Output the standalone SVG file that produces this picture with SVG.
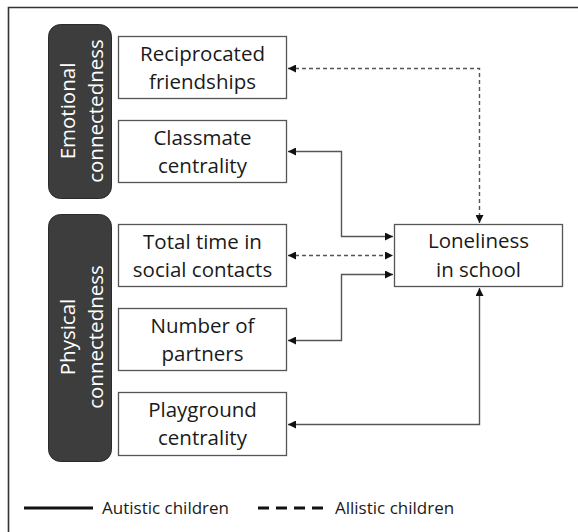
<svg xmlns="http://www.w3.org/2000/svg" width="578" height="532" viewBox="0 0 578 532">
<style>
.box{fill:#fff;stroke:#555;stroke-width:1.3}
.grp{fill:#3d3d3d;stroke:#2a2a2a;stroke-width:1}
.t{font-family:"Open Sans",sans-serif;font-size:20.5px;fill:#1a1a1a;text-anchor:middle}
.w{font-family:"Open Sans",sans-serif;font-size:20.5px;fill:#fff;text-anchor:middle}
.l{font-family:"Open Sans",sans-serif;font-size:17px;fill:#1a1a1a}
.c{fill:none;stroke:#555;stroke-width:1.4}
.d{stroke-dasharray:4 3}
</style>
<defs>
<marker id="a" viewBox="0 0 10 10" refX="10" refY="5" markerWidth="8" markerHeight="8" markerUnits="userSpaceOnUse" orient="auto-start-reverse">
<path d="M0,0 L10,5 L0,10 z" fill="#111"/>
</marker>
</defs>
<rect width="578" height="532" fill="#fff"/>
<path d="M8.5,532 V7.5 H578" fill="none" stroke="#333" stroke-width="1.6"/>
<g id="emotional">
<rect class="grp" x="48.5" y="24.5" width="63" height="174" rx="12"/>
<text class="w" transform="translate(75,111) rotate(-90)">Emotional</text>
<text class="w" transform="translate(103,111) rotate(-90)">connectedness</text>
</g>
<g id="physical">
<rect class="grp" x="48.5" y="214.5" width="63" height="247" rx="12"/>
<text class="w" transform="translate(75,337) rotate(-90)">Physical</text>
<text class="w" transform="translate(103,337) rotate(-90)">connectedness</text>
</g>
<g id="reciprocated">
<rect class="box" x="118.5" y="36.5" width="168" height="62"/>
<text class="t" x="202.5" y="61">Reciprocated</text>
<text class="t" x="202.5" y="89">friendships</text>
</g>
<g id="classmate">
<rect class="box" x="118.5" y="120.5" width="168" height="62"/>
<text class="t" x="202.5" y="145">Classmate</text>
<text class="t" x="202.5" y="173">centrality</text>
</g>
<g id="totaltime">
<rect class="box" x="118.5" y="224.5" width="168" height="62"/>
<text class="t" x="202.5" y="249">Total time in</text>
<text class="t" x="202.5" y="277">social contacts</text>
</g>
<g id="partners">
<rect class="box" x="118.5" y="308.5" width="168" height="62"/>
<text class="t" x="202.5" y="333">Number of</text>
<text class="t" x="202.5" y="361">partners</text>
</g>
<g id="playground">
<rect class="box" x="118.5" y="392.5" width="168" height="63"/>
<text class="t" x="202.5" y="417">Playground</text>
<text class="t" x="202.5" y="445">centrality</text>
</g>
<g id="loneliness">
<rect class="box" x="394.5" y="224.5" width="168" height="62"/>
<text class="t" x="478.5" y="248">Loneliness</text>
<text class="t" x="478.5" y="277">in school</text>
</g>
<g id="connectors">
<path class="c d" d="M288,68.5 H479.5 V223" marker-start="url(#a)" marker-end="url(#a)"/>
<path class="c" d="M288,151.5 H341.5 V236.5 H393" marker-start="url(#a)" marker-end="url(#a)"/>
<path class="c d" d="M288,255.5 H393" marker-start="url(#a)" marker-end="url(#a)"/>
<path class="c" d="M393,274.5 H341.5 V340.5 H288" marker-start="url(#a)" marker-end="url(#a)"/>
<path class="c" d="M479.5,288 V424.5 H288" marker-start="url(#a)" marker-end="url(#a)"/>
</g>
<g id="legend">
<line x1="24" y1="508" x2="93" y2="508" stroke="#111" stroke-width="3"/>
<text class="l" x="102" y="514">Autistic children</text>
<line x1="258" y1="508" x2="324" y2="508" stroke="#111" stroke-width="3" stroke-dasharray="11 7"/>
<text class="l" x="335" y="514">Allistic children</text>
</g>
</svg>
